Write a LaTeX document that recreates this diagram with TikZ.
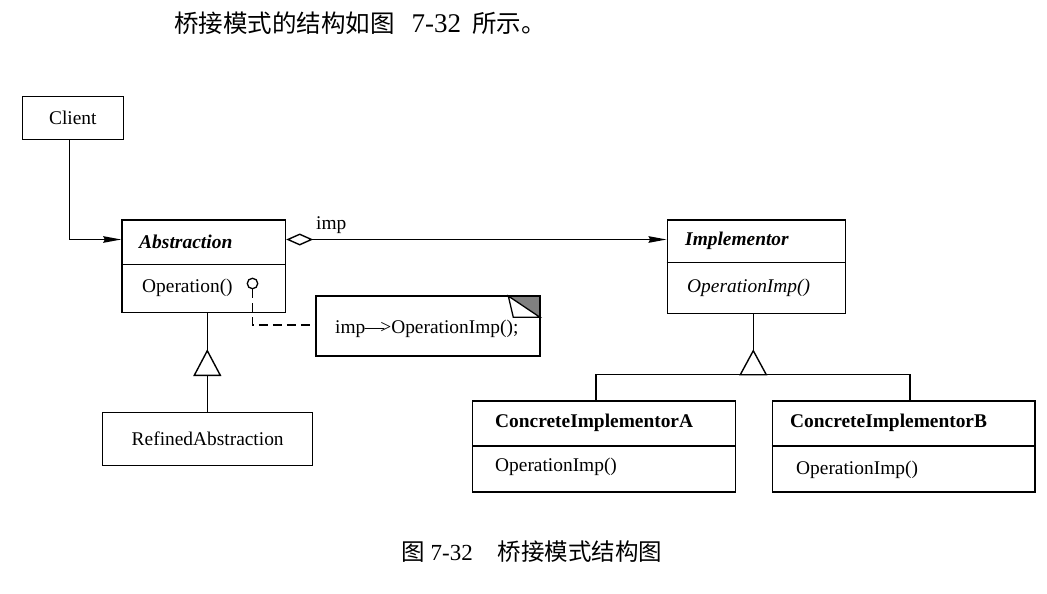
\documentclass[tikz,border=0pt]{standalone}
\usepackage{fontspec}
\setmainfont{Liberation Serif}
\newfontfamily\cjk{Noto Sans CJK SC}
\usetikzlibrary{arrows.meta}
\tikzset{
  box/.style={draw, line width=1.4pt, rectangle, inner sep=0pt},
  lbl/.style={inner sep=0pt, font=\fontsize{19.4}{22}\selectfont},
  lblw/.style={lbl, anchor=west},
  conn/.style={line width=1.4pt},
  filled/.style={-{Stealth[length=18pt,width=6.5pt,inset=1.5pt]}},
  dashconn/.style={line width=1.3pt, dash pattern=on 9pt off 5pt},
  gen/.style={line width=1.4pt, fill=white, line join=miter},
}
\begin{document}
\begin{tikzpicture}[x=1pt,y=-1pt]
\useasboundingbox (0,0) rectangle (1047,594);

% heading text
\node[anchor=west, inner sep=0pt, font=\fontsize{24.5}{28}\selectfont] (head) at (174,23)
  {{\cjk 桥接模式的结构如图}\hspace{17pt}{\fontsize{27}{28}\selectfont 7-32}\hspace{11pt}{\cjk 所示。}};

% Client
\node[box, minimum width=101pt, minimum height=42.6pt] (client) at (72.8,118) {};
\node[lbl] (clientt) at (client.center) {Client};

% Abstraction
\node[box, minimum width=163.5pt, minimum height=92.5pt] (abs) at (203.75,266.25) {};
\coordinate (absdiv) at (0,264.5);
\draw[conn] (abs.west |- absdiv) -- (abs.east |- absdiv);
\node[lblw, font=\fontsize{19.5}{22}\selectfont\bfseries\itshape] (abst) at (139,242) {Abstraction};
\node[lblw] (absop) at (142,288) {Operation()};

% Implementor
\node[box, minimum width=178.4pt, minimum height=93.3pt] (impl) at (756.5,266.65) {};
\coordinate (impldiv) at (0,262.7);
\draw[conn] (impl.west |- impldiv) -- (impl.east |- impldiv);
\node[lblw, font=\fontsize{19.4}{22}\selectfont\bfseries\itshape] (implt) at (685,241) {Implementor};
\node[lblw, font=\fontsize{19.4}{22}\selectfont\itshape] (implop) at (687,288) {OperationImp()};

% RefinedAbstraction
\node[box, minimum width=210pt, minimum height=53.4pt] (refined) at (207.7,439) {};
\node[lbl] (refinedt) at (refined.center) {RefinedAbstraction};

% ConcreteImplementorA
\node[box, minimum width=263pt, minimum height=91pt] (cia) at (604.2,446.5) {};
\coordinate (cdiv) at (0,446);
\draw[conn] (cia.west |- cdiv) -- (cia.east |- cdiv);
\node[lblw, font=\fontsize{19.4}{22}\selectfont\bfseries] (ciat) at (495,423) {ConcreteImplementorA};
\node[lblw] (ciaop) at (495,467) {OperationImp()};

% ConcreteImplementorB
\node[box, minimum width=262.7pt, minimum height=91pt] (cib) at (903.65,446.5) {};
\draw[conn] (cib.west |- cdiv) -- (cib.east |- cdiv);
\node[lblw, font=\fontsize{19.4}{22}\selectfont\bfseries] (cibt) at (790,423) {ConcreteImplementorB};
\node[lblw] (cibop) at (796,470) {OperationImp()};

% Note
\node[box, minimum width=224pt, minimum height=60pt] (note) at (428,326) {};
\coordinate (fa) at (508.3,296);
\coordinate (fb) at (513.3,317.3);
\coordinate (fc) at (540,317.3);
\coordinate (fd) at (540,296);
\fill[black!50] (fa) -- (fd) -- (fc) -- cycle;
\draw[line width=1.3pt, fill=white, line join=miter] (fa) -- (fb) -- (fc) -- cycle;
\draw[line width=1.4pt] (fa) -- (fd) -- (fc);
\node[lblw] (notet) at (335,329) {imp\kern-0.5pt\textemdash\kern-4pt>OperationImp();};

% Client -> Abstraction
\coordinate (cx) at (69.3,0);
\coordinate (ay) at (0,239.5);
\draw[conn, filled] (client.south -| cx) |- (abs.west |- ay);

% Abstraction <>-> Implementor
\draw[conn, {Diamond[open,length=27pt,width=12pt]}-{Stealth[length=18pt,width=6.5pt,inset=1.5pt]}]
  (abs.east |- ay) -- (impl.west |- ay);
\node[lblw] (imp) at (316,225) {imp};

% lollipop and dashed link to the note
\node[circle, draw, line width=1.3pt, minimum size=10.5pt, inner sep=0pt] (lolli) at (252.5,283.5) {};
\coordinate (dcorner) at (252.5,325);
\draw[dashconn] (lolli.south) -- (dcorner) -- (note.west |- dcorner);

% Abstraction <|- RefinedAbstraction
\coordinate (t1apex) at (207.3,350.7);
\coordinate (t1l) at (194.3,375.3);
\coordinate (t1r) at (220.3,375.3);
\coordinate (t1base) at (207.3,375.3);
\draw[conn] (abs.south -| t1apex) -- (t1apex);
\draw[gen] (t1apex) -- (t1r) -- (t1l) -- cycle;
\draw[conn] (t1base) -- (refined.north -| t1base);

% Implementor <|- concrete implementors
\coordinate (t2apex) at (753.3,350.7);
\coordinate (t2l) at (740.3,374.7);
\coordinate (t2r) at (766.3,374.7);
\coordinate (xa) at (596,374.7);
\coordinate (xb) at (910,374.7);
\draw[conn] (impl.south -| t2apex) -- (t2apex);
\draw[conn] (cia.north -| xa) -- (xa) -- (xb) -- (cib.north -| xb);
\draw[gen] (t2apex) -- (t2r) -- (t2l) -- cycle;

% caption
\node[anchor=west, inner sep=0pt, font=\fontsize{23.5}{26}\selectfont] (caption) at (401,551.5)
  {{\cjk 图}\hspace{6pt}{\fontsize{23}{26}\selectfont 7-32}\hspace{25pt}{\cjk 桥接模式结构图}};
\end{tikzpicture}
\end{document}
